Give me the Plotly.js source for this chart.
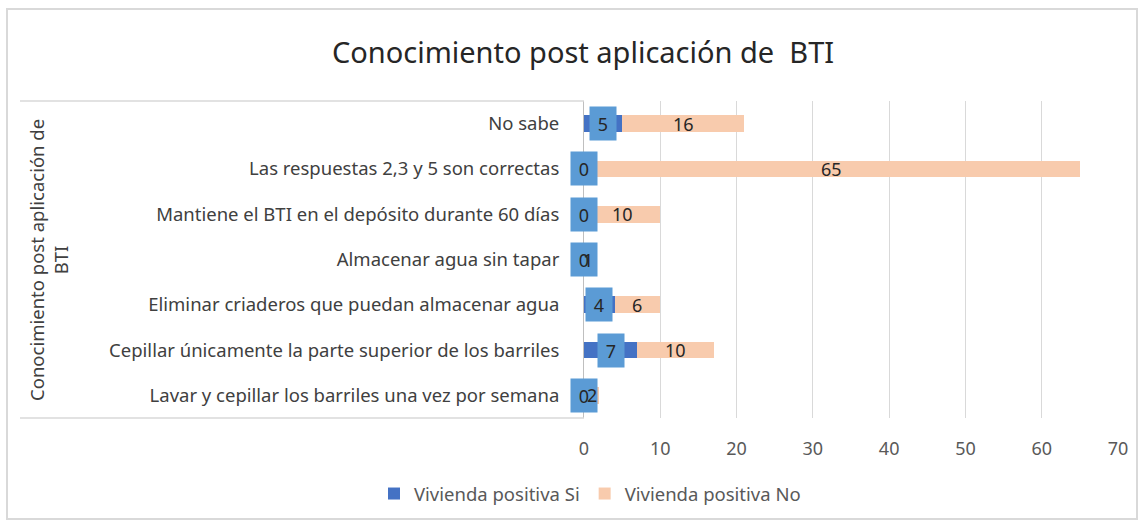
<!DOCTYPE html>
<html>
<head>
<meta charset="utf-8">
<script src="https://cdn.plot.ly/plotly-3.0.1.min.js"></script>
<style>html,body{margin:0;padding:0;background:#fff;}#chart{width:1144px;height:525px;}</style>
</head>
<body>
<div id="chart"></div>
<script>
const categories = [
  "Lavar y cepillar los barriles una vez por semana",
  "Cepillar únicamente la parte superior de los barriles",
  "Eliminar criaderos que puedan almacenar agua",
  "Almacenar agua sin tapar",
  "Mantiene el BTI en el depósito durante 60 días",
  "Las respuestas 2,3 y 5 son correctas",
  "No sabe"
];
const viviendaSi = [0, 7, 4, 0, 0, 0, 5];
const viviendaNo = [2, 10, 6, 1, 10, 65, 16];
const seriesNames = ["Vivienda positiva Si", "Vivienda positiva No"];
const xTicks = [0, 10, 20, 30, 40, 50, 60, 70];
const chartTitle = "Conocimiento post aplicación de  BTI";
const axisTitle = "Conocimiento post aplicación de<br>BTI";

const FONT = "Noto Sans, Open Sans, sans-serif";
const L = 584, R = 26, T = 101, B = 107;
const PW = 1144 - L - R, PH = 525 - T - B;
const px = v => (v - L) / PW;
const py = v => (525 - B - v) / PH;

const traces = [
  {type: "bar", orientation: "h", name: seriesNames[0], y: categories, x: viviendaSi,
   marker: {color: "#4472C4"}, hoverinfo: "x+y"},
  {type: "bar", orientation: "h", name: seriesNames[1], y: categories, x: viviendaNo,
   marker: {color: "#F8CBAD"}, hoverinfo: "x+y"}
];

const annotations = [];
categories.forEach((c, i) => {
  annotations.push({x: viviendaSi[i] / 2, y: c, xref: "x", yref: "y", text: String(viviendaSi[i]),
    showarrow: false, bgcolor: "#5B9BD5", borderpad: 2, width: 22, height: 29, align: "center",
    font: {family: FONT, size: 18, color: "#262626"}});
});
categories.forEach((c, i) => {
  annotations.push({x: viviendaSi[i] + viviendaNo[i] / 2, y: c, xref: "x", yref: "y", text: String(viviendaNo[i]),
    showarrow: false, font: {family: FONT, size: 18, color: "#262626"}});
});
annotations.push({x: px(48), y: py(260), xref: "paper", yref: "paper", text: axisTitle,
  textangle: -90, showarrow: false, xanchor: "center", yanchor: "middle",
  font: {family: FONT, size: 18.5, color: "#404040"}});

const layout = {
  width: 1144, height: 525,
  margin: {l: L, r: R, t: T, b: B, pad: 0},
  paper_bgcolor: "#ffffff", plot_bgcolor: "#ffffff",
  barmode: "stack", bargap: 0.63,
  title: {text: chartTitle, x: 583 / 1144, xanchor: "center", y: 1 - 53 / 525, yanchor: "middle",
    font: {family: FONT, size: 29, color: "#262626"}},
  xaxis: {range: [0, 70], tickvals: xTicks, ticktext: xTicks.map(String),
    showgrid: true, gridcolor: "#D9D9D9", gridwidth: 1, zeroline: false, showline: false,
    ticks: "", ticklabelstandoff: 18,
    tickfont: {family: FONT, size: 18, color: "#595959"}, fixedrange: true},
  yaxis: {type: "category", categoryorder: "array", categoryarray: categories,
    showgrid: false, zeroline: false, showline: true, linecolor: "#BFBFBF", linewidth: 1,
    ticks: "", ticklabelstandoff: 20,
    tickfont: {family: FONT, size: 18.5, color: "#404040"}, fixedrange: true},
  showlegend: true,
  legend: {orientation: "h", x: px(590), xanchor: "center", y: py(494), yanchor: "middle",
    font: {family: FONT, size: 18.5, color: "#595959"}, traceorder: "normal", itemwidth: 30},
  annotations: annotations,
  shapes: [
    {type: "line", xref: "paper", yref: "paper", x0: px(20), x1: 0, y0: 1, y1: 1,
     line: {color: "#D9D9D9", width: 1.5}},
    {type: "line", xref: "paper", yref: "paper", x0: px(20), x1: 0, y0: 0, y1: 0,
     line: {color: "#D9D9D9", width: 1.5}},
    {type: "rect", xref: "paper", yref: "paper", x0: px(7), x1: px(1137), y0: py(519), y1: py(9),
     line: {color: "#D9D9D9", width: 2}, fillcolor: "rgba(0,0,0,0)", layer: "below"}
  ]
};

Plotly.newPlot("chart", traces, layout, {displayModeBar: false, staticPlot: true});
</script>
</body>
</html>
